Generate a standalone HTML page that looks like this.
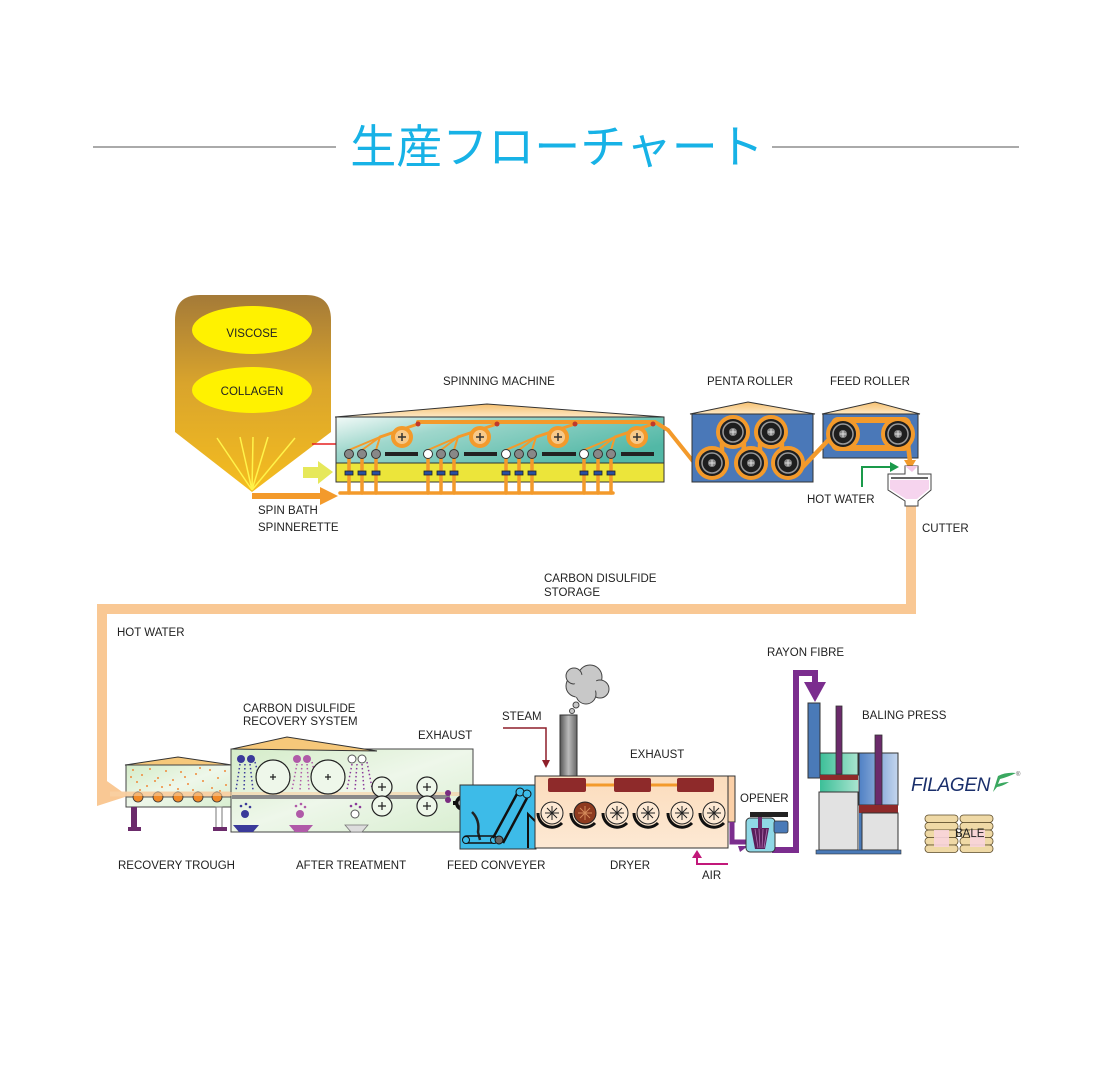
<!DOCTYPE html>
<html><head><meta charset="utf-8"><style>
html,body{margin:0;padding:0;background:#fff;}
svg{display:block;}
text{font-family:"Liberation Sans",Arial,sans-serif;font-size:11.5px;fill:#222;}
</style></head><body>
<svg width="1110" height="1086" viewBox="0 0 1110 1086" xmlns="http://www.w3.org/2000/svg">
<defs>
<linearGradient id="hop" x1="0" y1="0" x2="0" y2="1">
<stop offset="0" stop-color="#a47a38"/><stop offset="0.45" stop-color="#d9a42c"/><stop offset="1" stop-color="#f5bd1f"/></linearGradient>
<linearGradient id="roof" x1="0" y1="0" x2="0" y2="1">
<stop offset="0" stop-color="#f6c070"/><stop offset="1" stop-color="#fde8c4"/></linearGradient>
<linearGradient id="teal" x1="0" y1="0" x2="1" y2="0.6">
<stop offset="0" stop-color="#f2faf8"/><stop offset="0.35" stop-color="#9fd7cc"/><stop offset="1" stop-color="#52b8a6"/></linearGradient>
<linearGradient id="green" x1="0" y1="0" x2="1" y2="1">
<stop offset="0" stop-color="#d4ecc8"/><stop offset="0.5" stop-color="#eef7ea"/><stop offset="1" stop-color="#d8eed0"/></linearGradient>
<linearGradient id="dry" x1="0" y1="0" x2="0" y2="1">
<stop offset="0" stop-color="#fbdcbc"/><stop offset="1" stop-color="#fde9d4"/></linearGradient>
<linearGradient id="chim" x1="0" y1="0" x2="1" y2="0">
<stop offset="0" stop-color="#555"/><stop offset="0.5" stop-color="#bbb"/><stop offset="1" stop-color="#666"/></linearGradient>
<linearGradient id="bpb" x1="0" y1="0" x2="1" y2="0">
<stop offset="0" stop-color="#4f80c4"/><stop offset="1" stop-color="#c4d6ee"/></linearGradient>
<linearGradient id="bpg" x1="0" y1="0" x2="1" y2="0">
<stop offset="0" stop-color="#3cbf98"/><stop offset="1" stop-color="#a8e4cf"/></linearGradient>
</defs>

<!-- title -->
<line x1="93" y1="147" x2="336" y2="147" stroke="#555" stroke-width="1"/>
<line x1="772" y1="147" x2="1019" y2="147" stroke="#555" stroke-width="1"/>
<text x="557" y="163" text-anchor="middle" style="font-family:'Liberation Sans','Noto Sans CJK JP',sans-serif;font-size:46px;fill:#17b2e6;">生産フローチャート</text>

<!-- hopper -->
<path d="M175 320 Q175 295 200 295 L306 295 Q331 295 331 320 L331 432 L252 492 L175 432 Z" fill="url(#hop)"/>
<ellipse cx="252" cy="330" rx="60" ry="24" fill="#fff200"/>
<ellipse cx="252" cy="390" rx="60" ry="23" fill="#fff200"/>
<text x="252" y="337" text-anchor="middle">VISCOSE</text>
<text x="252" y="395" text-anchor="middle">COLLAGEN</text>
<g stroke="#fff34a" stroke-width="1.5">
<line x1="252" y1="490" x2="217" y2="438"/><line x1="252" y1="490" x2="240" y2="437"/>
<line x1="252" y1="490" x2="253" y2="437"/><line x1="252" y1="490" x2="268" y2="437"/>
<line x1="252" y1="490" x2="295" y2="438"/></g>

<!-- red line -->
<path d="M312 444 L338 444 L338 473 L341 473" fill="none" stroke="#e52020" stroke-width="1.5"/>
<polygon points="339,467 348,473 339,479" fill="#e52020"/>
<!-- yellow arrow -->
<polygon points="303,467 318,467 318,461 333,472 318,484 318,478 303,478" fill="#e6e85a"/>
<!-- orange arrow -->
<line x1="252" y1="496" x2="322" y2="496" stroke="#f39a2b" stroke-width="6"/>
<polygon points="320,487 338,496 320,505" fill="#f39a2b"/>
<text x="258" y="514">SPIN BATH</text>
<text x="258" y="531">SPINNERETTE</text>

<!-- spinning machine -->
<text x="443" y="385">SPINNING MACHINE</text>
<polygon points="335,417 487,404 664,417" fill="url(#roof)" stroke="#333" stroke-width="1"/>
<rect x="336" y="417" width="328" height="46" fill="url(#teal)" stroke="#333" stroke-width="1"/>
<rect x="336" y="463" width="328" height="19" fill="#ece53a" stroke="#333" stroke-width="1"/>
<g fill="#222">
<rect x="385" y="452" width="33" height="4"/><rect x="464" y="452" width="33" height="4"/>
<rect x="542" y="452" width="34" height="4"/><rect x="621" y="452" width="33" height="4"/></g>
<g stroke="#f39a2b" fill="none" stroke-linecap="round">
<path d="M418 422 L655 422 L668 430 L700 470" stroke-width="4"/>
<g stroke-width="2">
<path d="M349 450 L380 437 M362 450 L380 437 M376 450 L380 437"/>
<path d="M428 450 L458 437 M441 450 L458 437 M454 450 L458 437"/>
<path d="M506 450 L536 437 M519 450 L536 437 M532 450 L536 437"/>
<path d="M584 450 L615 437 M598 450 L615 437 M611 450 L615 437"/></g>
<g stroke-width="3">
<path d="M380 437 L418 424 M458 437 L497 424 M536 437 L575 424 M615 437 L653 424"/></g>
<g stroke-width="3.5">
<path d="M349 458 L349 493 M362 458 L362 493 M376 458 L376 493 M428 458 L428 493 M441 458 L441 493 M454 458 L454 493 M506 458 L506 493 M519 458 L519 493 M532 458 L532 493 M584 458 L584 493 M598 458 L598 493 M611 458 L611 493"/>
<path d="M340 493 L613 493"/></g>
<g stroke-width="4" fill="#f7c98a">
<circle cx="402" cy="437" r="9"/><circle cx="480" cy="437" r="9"/><circle cx="558" cy="437" r="9"/><circle cx="637" cy="437" r="9"/></g>
</g>
<g stroke="#333" stroke-width="1.5">
<path d="M398 437 H406 M402 433 V441 M476 437 H484 M480 433 V441 M554 437 H562 M558 433 V441 M633 437 H641 M637 433 V441"/></g>
<g fill="#c0392b"><circle cx="418" cy="424" r="2.5"/><circle cx="497" cy="424" r="2.5"/><circle cx="575" cy="424" r="2.5"/><circle cx="653" cy="424" r="2.5"/></g>
<g stroke="#333" stroke-width="1" fill="#888">
<circle cx="349" cy="454" r="4.5"/><circle cx="362" cy="454" r="4.5"/><circle cx="376" cy="454" r="4.5"/>
<circle cx="428" cy="454" r="4.5" fill="#fff"/><circle cx="441" cy="454" r="4.5"/><circle cx="454" cy="454" r="4.5"/>
<circle cx="506" cy="454" r="4.5" fill="#fff"/><circle cx="519" cy="454" r="4.5"/><circle cx="532" cy="454" r="4.5"/>
<circle cx="584" cy="454" r="4.5" fill="#fff"/><circle cx="598" cy="454" r="4.5"/><circle cx="611" cy="454" r="4.5"/></g>
<g fill="#2a4fa0" stroke="#222" stroke-width="0.8">
<rect x="345" y="471" width="8" height="4"/><rect x="358" y="471" width="8" height="4"/><rect x="372" y="471" width="8" height="4"/>
<rect x="424" y="471" width="8" height="4"/><rect x="437" y="471" width="8" height="4"/><rect x="450" y="471" width="8" height="4"/>
<rect x="502" y="471" width="8" height="4"/><rect x="515" y="471" width="8" height="4"/><rect x="528" y="471" width="8" height="4"/>
<rect x="580" y="471" width="8" height="4"/><rect x="594" y="471" width="8" height="4"/><rect x="607" y="471" width="8" height="4"/></g>

<!-- penta roller -->
<text x="707" y="385">PENTA ROLLER</text>
<polygon points="690,414 748,402 815,414" fill="url(#roof)" stroke="#333" stroke-width="1"/>
<rect x="692" y="414" width="121" height="68" fill="#4a78b8" stroke="#333" stroke-width="1"/>
<!-- feed roller -->
<text x="830" y="385">FEED ROLLER</text>
<polygon points="822,414 875,402 920,414" fill="url(#roof)" stroke="#333" stroke-width="1"/>
<rect x="823" y="414" width="95" height="44" fill="#4a78b8" stroke="#333" stroke-width="1"/>
<rect x="834" y="420" width="74" height="28" rx="4" fill="none" stroke="#f39a2b" stroke-width="6"/>
<g fill="none" stroke="#f39a2b" stroke-width="4.5" stroke-linejoin="round">
<path d="M698 468 Q708 482 722 474 L722 444 Q733 416 744 444 L742 470 Q751 482 760 470 L760 444 Q771 416 782 444 L780 470 Q790 484 800 470 L836 432"/>
<path d="M908 444 L910 462"/></g>
<g fill="none" stroke="#f39a2b" stroke-width="4">
<circle cx="712" cy="463" r="15"/><circle cx="733" cy="432" r="15"/><circle cx="751" cy="463" r="15"/><circle cx="771" cy="432" r="15"/><circle cx="788" cy="463" r="15"/>
<circle cx="843" cy="434" r="15"/><circle cx="898" cy="434" r="15"/></g>
<polygon points="904,460 916,460 910,470" fill="#f39a2b"/>
<g>
<circle cx="712" cy="463" r="13" fill="#1e1e1e"/><circle cx="712" cy="463" r="10" fill="none" stroke="#9a9a9a" stroke-width="1.5"/><circle cx="712" cy="463" r="4" fill="#888"/>
<circle cx="733" cy="432" r="13" fill="#1e1e1e"/><circle cx="733" cy="432" r="10" fill="none" stroke="#9a9a9a" stroke-width="1.5"/><circle cx="733" cy="432" r="4" fill="#888"/>
<circle cx="751" cy="463" r="13" fill="#1e1e1e"/><circle cx="751" cy="463" r="10" fill="none" stroke="#9a9a9a" stroke-width="1.5"/><circle cx="751" cy="463" r="4" fill="#888"/>
<circle cx="771" cy="432" r="13" fill="#1e1e1e"/><circle cx="771" cy="432" r="10" fill="none" stroke="#9a9a9a" stroke-width="1.5"/><circle cx="771" cy="432" r="4" fill="#888"/>
<circle cx="788" cy="463" r="13" fill="#1e1e1e"/><circle cx="788" cy="463" r="10" fill="none" stroke="#9a9a9a" stroke-width="1.5"/><circle cx="788" cy="463" r="4" fill="#888"/>
<circle cx="843" cy="434" r="13" fill="#1e1e1e"/><circle cx="843" cy="434" r="10" fill="none" stroke="#9a9a9a" stroke-width="1.5"/><circle cx="843" cy="434" r="4" fill="#888"/>
<circle cx="898" cy="434" r="13" fill="#1e1e1e"/><circle cx="898" cy="434" r="10" fill="none" stroke="#9a9a9a" stroke-width="1.5"/><circle cx="898" cy="434" r="4" fill="#888"/>
</g>
<g stroke="#ddd" stroke-width="1"><path d="M709 463H715M712 460V466M730 432H736M733 429V435M748 463H754M751 460V466M768 432H774M771 429V435M785 463H791M788 460V466M840 434H846M843 431V437M895 434H901M898 431V437"/></g>

<!-- hot water green arrow -->
<path d="M862 487 L862 467 L892 467" fill="none" stroke="#1a9a4a" stroke-width="2"/>
<polygon points="890,462 899,467 890,472" fill="#1a9a4a"/>
<text x="807" y="503">HOT WATER</text>

<!-- peach pipe -->
<path d="M911 503 L911 609 L102 609 L102 800" fill="none" stroke="#f9c894" stroke-width="10"/>
<polygon points="97,774 128,796 97,806" fill="#f9c894"/>

<!-- cutter -->
<path d="M905 466 L918 466 L918 474 L931 474 L931 490 L918 501 L918 506 L905 506 L905 501 L888 490 L888 474 L905 474 Z" fill="#fff" stroke="#444" stroke-width="1"/>
<path d="M890 480 L929 480 L929 489 L917 499 L906 499 L890 489 Z" fill="#f6d4ee"/>
<line x1="891" y1="478" x2="928" y2="478" stroke="#333" stroke-width="1.5"/>
<path d="M905 466 L918 466 L912 472 Z" fill="#f3c8e8"/>
<text x="922" y="532">CUTTER</text>

<text x="544" y="582">CARBON DISULFIDE</text>
<text x="544" y="596">STORAGE</text>
<text x="117" y="636">HOT WATER</text>

<!-- recovery trough -->
<polygon points="125,765 178,757 232,765" fill="#f6c87a" stroke="#333" stroke-width="1"/>
<rect x="126" y="765" width="105" height="42" fill="url(#green)" stroke="#444" stroke-width="1"/>
<g fill="#f08a3a">
<circle cx="133" cy="770" r="1"/><circle cx="142" cy="775" r="1"/><circle cx="150" cy="769" r="1"/><circle cx="158" cy="778" r="1"/><circle cx="137" cy="782" r="1"/><circle cx="147" cy="786" r="1"/><circle cx="166" cy="771" r="1"/><circle cx="173" cy="780" r="1"/><circle cx="181" cy="772" r="1"/><circle cx="188" cy="784" r="1"/><circle cx="196" cy="774" r="1"/><circle cx="203" cy="781" r="1"/><circle cx="210" cy="770" r="1"/><circle cx="218" cy="778" r="1"/><circle cx="225" cy="771" r="1"/><circle cx="162" cy="787" r="1"/><circle cx="178" cy="789" r="1"/><circle cx="193" cy="790" r="1"/><circle cx="212" cy="788" r="1"/><circle cx="226" cy="785" r="1"/><circle cx="140" cy="790" r="1"/><circle cx="155" cy="781" r="1"/><circle cx="200" cy="768" r="1"/><circle cx="185" cy="777" r="1"/><circle cx="220" cy="791" r="1"/><circle cx="131" cy="777" r="1"/><circle cx="170" cy="785" r="1"/></g>
<line x1="126" y1="797" x2="231" y2="797" stroke="#555" stroke-width="1"/>
<line x1="110" y1="794" x2="470" y2="794" stroke="#f9d0a2" stroke-width="5" opacity="0.85"/>
<g fill="#f08a2a" stroke="#333" stroke-width="0.8">
<circle cx="138" cy="797" r="5"/><circle cx="158" cy="797" r="5"/><circle cx="178" cy="797" r="5"/><circle cx="198" cy="797" r="5"/><circle cx="217" cy="797" r="5"/></g>
<rect x="131" y="807" width="6" height="21" fill="#6b2b6b"/>
<rect x="128" y="827" width="13" height="4" fill="#6b2b6b"/>
<rect x="216" y="807" width="6" height="21" fill="#fff" stroke="#777" stroke-width="1"/>
<rect x="213" y="827" width="14" height="4" fill="#6b2b6b"/>

<!-- after treatment -->
<text x="243" y="712">CARBON DISULFIDE</text>
<text x="243" y="725">RECOVERY SYSTEM</text>
<text x="418" y="739">EXHAUST</text>
<rect x="231" y="749" width="242" height="83" fill="url(#green)" stroke="#444" stroke-width="1"/>
<polygon points="232,749 287,737 377,751" fill="#f6c87a" stroke="#333" stroke-width="1"/>
<line x1="110" y1="794" x2="470" y2="794" stroke="#f9d0a2" stroke-width="4" opacity="0.6"/>
<rect x="232" y="795" width="218" height="4" fill="#8a8a8a"/>
<g fill="none" stroke-width="1.5" stroke-dasharray="1.5 2.5">
<path d="M240 764 L236 790 M245 764 L244 790 M250 764 L253 790 M255 762 L262 788" stroke="#3a3a9a"/>
<path d="M297 764 L292 790 M302 764 L300 790 M307 764 L309 790 M312 762 L318 788" stroke="#b05aa8"/>
<path d="M352 764 L347 790 M357 764 L355 790 M362 764 L364 790 M367 762 L372 788" stroke="#8a3a9a"/>
</g>
<circle cx="241" cy="759" r="4" fill="#3a3a9a"/><circle cx="251" cy="759" r="4" fill="#3a3a9a"/>
<circle cx="297" cy="759" r="4" fill="#b05aa8"/><circle cx="307" cy="759" r="4" fill="#b05aa8"/>
<circle cx="352" cy="759" r="4" fill="#fff" stroke="#555"/><circle cx="362" cy="759" r="4" fill="#fff" stroke="#555"/>
<circle cx="273" cy="777" r="17" fill="#eef7ea" stroke="#222" stroke-width="1.2"/>
<circle cx="328" cy="777" r="17" fill="#eef7ea" stroke="#222" stroke-width="1.2"/>
<g fill="#eef7ea" stroke="#222" stroke-width="1.2">
<circle cx="382" cy="787" r="10"/><circle cx="382" cy="806" r="10"/><circle cx="427" cy="787" r="10"/><circle cx="427" cy="806" r="10"/></g>
<g stroke="#222" stroke-width="1.2"><path d="M270 777H276M273 774V780M325 777H331M328 774V780M378 787H386M382 783V791M378 806H386M382 802V810M423 787H431M427 783V791M423 806H431M427 802V810"/></g>
<circle cx="245" cy="814" r="4" fill="#3a3a9a"/><circle cx="300" cy="814" r="4" fill="#b05aa8"/><circle cx="355" cy="814" r="4" fill="#fff" stroke="#555"/>
<g fill="#3a3a9a"><circle cx="241" cy="806" r="1.3"/><circle cx="246" cy="804" r="1.3"/><circle cx="250" cy="807" r="1.3"/></g>
<g fill="#b05aa8"><circle cx="296" cy="806" r="1.3"/><circle cx="301" cy="804" r="1.3"/><circle cx="305" cy="807" r="1.3"/></g>
<g fill="#8a3a9a"><circle cx="351" cy="806" r="1.3"/><circle cx="356" cy="804" r="1.3"/><circle cx="360" cy="807" r="1.3"/></g>
<polygon points="233,825 259,825 253,832 239,832" fill="#3a3a9a"/>
<polygon points="289,825 313,825 307,832 295,832" fill="#b05aa8"/>
<polygon points="345,825 368,825 362,832 351,832" fill="#ddd" stroke="#777" stroke-width="0.8"/>
<circle cx="448" cy="793" r="3" fill="#7a2d80"/><circle cx="448" cy="800" r="3" fill="#7a2d80"/>
<circle cx="463" cy="803" r="8" fill="#111"/>
<g fill="#111"><rect x="461" y="793" width="4" height="20"/><rect x="453" y="801" width="20" height="4"/></g>
<circle cx="463" cy="803" r="4.5" fill="#fff"/>
<path d="M460.5 803H465.5M463 800.5V805.5" stroke="#111" stroke-width="1.2"/>

<!-- feed conveyer -->
<rect x="460" y="785" width="76" height="64" fill="#3dbbe8" stroke="#333" stroke-width="1"/>
<path d="M472 812 Q480 820 478 832 L480 840" fill="none" stroke="#222" stroke-width="2.5"/>
<rect x="463" y="836" width="34" height="7" rx="3.5" fill="none" stroke="#111" stroke-width="1.5"/>
<circle cx="466" cy="840" r="3.5" fill="#3dbbe8" stroke="#111"/><circle cx="494" cy="840" r="3.5" fill="#3dbbe8" stroke="#111"/>
<path d="M493 838 L518 792 M503 843 L527 798" stroke="#111" stroke-width="2.5"/>
<circle cx="499" cy="840" r="4" fill="#666" stroke="#111"/>
<circle cx="520" cy="792" r="4" fill="#3dbbe8" stroke="#111"/><circle cx="527" cy="794" r="4" fill="#3dbbe8" stroke="#111"/>
<path d="M528 848 L528 814 L537 823" fill="none" stroke="#111" stroke-width="2"/>

<!-- dryer -->
<text x="502" y="720">STEAM</text>
<path d="M503 728 L546 728 L546 762" fill="none" stroke="#8e1f2a" stroke-width="1.5"/>
<polygon points="542,760 550,760 546,768" fill="#8e1f2a"/>
<text x="630" y="758">EXHAUST</text>
<rect x="560" y="715" width="17" height="61" fill="url(#chim)" stroke="#333" stroke-width="1"/>
<g fill="#c8c8c8" stroke="#444" stroke-width="1">
<circle cx="572" cy="711" r="2.5"/><circle cx="576" cy="705" r="3"/>
<circle cx="577" cy="686" r="11"/><circle cx="590" cy="677" r="12"/><circle cx="600" cy="689" r="9"/><circle cx="586" cy="694" r="10"/><circle cx="574" cy="676" r="8"/></g>
<g fill="#c8c8c8"><circle cx="586" cy="685" r="11"/><circle cx="580" cy="690" r="8"/></g>
<rect x="728" y="776" width="7" height="46" fill="#fbd0a8" stroke="#333" stroke-width="1"/>
<rect x="535" y="776" width="193" height="72" fill="url(#dry)" stroke="#333" stroke-width="1"/>
<line x1="586" y1="785" x2="677" y2="785" stroke="#f39a2b" stroke-width="3"/>
<g fill="#8e2a2a"><rect x="548" y="778" width="38" height="14" rx="2"/><rect x="614" y="778" width="37" height="14" rx="2"/><rect x="677" y="778" width="37" height="14" rx="2"/></g>
<g>
<g transform="translate(552,813)"><path d="M-14 0 A14 14 0 0 0 10 10" fill="none" stroke="#111" stroke-width="3"/><circle r="11" fill="#fde9d4" stroke="#222" stroke-width="1"/><path d="M-7 0H7M0-7V7M-5-5L5 5M-5 5L5-5" stroke="#222" stroke-width="1"/></g>
<g transform="translate(585,813)"><path d="M-14 0 A14 14 0 0 0 10 10" fill="none" stroke="#111" stroke-width="3"/><circle r="11" fill="#8e3a1e" stroke="#222" stroke-width="1"/><path d="M-7 0H7M0-7V7M-5-5L5 5M-5 5L5-5" stroke="#d48a5a" stroke-width="1"/></g>
<g transform="translate(617,813)"><path d="M-14 0 A14 14 0 0 0 10 10" fill="none" stroke="#111" stroke-width="3"/><circle r="11" fill="#fde9d4" stroke="#222" stroke-width="1"/><path d="M-7 0H7M0-7V7M-5-5L5 5M-5 5L5-5" stroke="#222" stroke-width="1"/></g>
<g transform="translate(648,813)"><path d="M-14 0 A14 14 0 0 0 10 10" fill="none" stroke="#111" stroke-width="3"/><circle r="11" fill="#fde9d4" stroke="#222" stroke-width="1"/><path d="M-7 0H7M0-7V7M-5-5L5 5M-5 5L5-5" stroke="#222" stroke-width="1"/></g>
<g transform="translate(682,813)"><path d="M-14 0 A14 14 0 0 0 10 10" fill="none" stroke="#111" stroke-width="3"/><circle r="11" fill="#fde9d4" stroke="#222" stroke-width="1"/><path d="M-7 0H7M0-7V7M-5-5L5 5M-5 5L5-5" stroke="#222" stroke-width="1"/></g>
<g transform="translate(714,813)"><path d="M-14 0 A14 14 0 0 0 10 10" fill="none" stroke="#111" stroke-width="3"/><circle r="11" fill="#fde9d4" stroke="#222" stroke-width="1"/><path d="M-7 0H7M0-7V7M-5-5L5 5M-5 5L5-5" stroke="#222" stroke-width="1"/></g>
</g>
<text x="610" y="869">DRYER</text>
<text x="447" y="869">FEED CONVEYER</text>
<path d="M728 864 L697 864 L697 857" fill="none" stroke="#c2187a" stroke-width="2"/>
<polygon points="692,858 702,858 697,850" fill="#c2187a"/>
<text x="702" y="879">AIR</text>

<!-- purple pipe -->
<path d="M732 822 L732 842 L748 842" fill="none" stroke="#7b2d8e" stroke-width="5"/>
<polygon points="738,846 748,846 740,852" fill="#7b2d8e"/>
<path d="M772 850 L796 850 L796 673 L815 673 L815 686" fill="none" stroke="#7b2d8e" stroke-width="6"/>
<polygon points="804,682 826,682 815,702" fill="#7b2d8e"/>
<text x="767" y="656">RAYON FIBRE</text>
<text x="740" y="802">OPENER</text>
<rect x="746" y="818" width="29" height="34" rx="4" fill="#8fd8e6" stroke="#333" stroke-width="1"/>
<polygon points="751,828 769,828 765,849 755,849" fill="#5a1d5a"/>
<g stroke="#b070b0" stroke-width="0.8"><path d="M755 829L758 848M759 829L760 848M763 829L762 848M767 829L764 848"/></g>
<rect x="750" y="812" width="38" height="5" fill="#222"/>
<rect x="758" y="817" width="4" height="12" fill="#6b2b6b"/>
<rect x="774" y="821" width="14" height="12" rx="2" fill="#4a7ab8" stroke="#333" stroke-width="0.8"/>

<!-- baling press -->
<text x="862" y="719">BALING PRESS</text>
<rect x="808" y="703" width="12" height="75" fill="#4a7ab8" stroke="#333" stroke-width="1"/>
<rect x="820" y="753" width="38" height="22" fill="url(#bpg)" stroke="#333" stroke-width="1"/>
<rect x="820" y="775" width="38" height="5" fill="#8e2a2a"/>
<rect x="820" y="780" width="38" height="12" fill="url(#bpg)"/>
<rect x="819" y="792" width="39" height="58" fill="#e2e2e2" stroke="#333" stroke-width="1"/>
<rect x="836" y="706" width="6" height="68" fill="#6b2b6b" stroke="#333" stroke-width="0.8"/>
<rect x="859" y="753" width="39" height="52" fill="url(#bpb)" stroke="#333" stroke-width="1"/>
<rect x="875" y="735" width="7" height="70" fill="#6b2b6b" stroke="#333" stroke-width="0.8"/>
<rect x="859" y="805" width="39" height="8" fill="#8e2a2a"/>
<rect x="859" y="813" width="3" height="37" fill="#4a7ab8"/>
<rect x="862" y="813" width="36" height="37" fill="#e2e2e2" stroke="#333" stroke-width="1"/>
<rect x="816" y="850" width="85" height="4" fill="#4a7ab8" stroke="#333" stroke-width="0.6"/>

<!-- FILAGEN logo -->
<text x="911" y="791" style="font-size:19px;font-style:italic;fill:#1a2f6b;letter-spacing:-0.3px;">FILAGEN</text>
<path d="M993 792 L998 776 Q1006 772 1016 773 Q1008 777 1000 779 L998 784 Q1004 782 1009 782 Q1003 786 997 787 Z" fill="#3aa860"/>
<text x="1016" y="776" style="font-size:6px;fill:#555;">®</text>

<!-- bale -->
<g fill="#efd9a6" stroke="#5a4a2a" stroke-width="0.8">
<rect x="925" y="815" width="33" height="7.5" rx="3.5"/><rect x="925" y="822.5" width="33" height="7.5" rx="3.5"/><rect x="925" y="830" width="33" height="7.5" rx="3.5"/><rect x="925" y="837.5" width="33" height="7.5" rx="3.5"/><rect x="925" y="845" width="33" height="7.5" rx="3.5"/>
<rect x="960" y="815" width="33" height="7.5" rx="3.5"/><rect x="960" y="822.5" width="33" height="7.5" rx="3.5"/><rect x="960" y="830" width="33" height="7.5" rx="3.5"/><rect x="960" y="837.5" width="33" height="7.5" rx="3.5"/><rect x="960" y="845" width="33" height="7.5" rx="3.5"/></g>
<rect x="934" y="830" width="15" height="17" fill="#f8d4dc" opacity="0.9"/>
<rect x="970" y="830" width="15" height="17" fill="#f8d4dc" opacity="0.9"/>
<text x="955" y="837">BALE</text>

<text x="118" y="869">RECOVERY TROUGH</text>
<text x="296" y="869">AFTER TREATMENT</text>
</svg>
</body></html>
